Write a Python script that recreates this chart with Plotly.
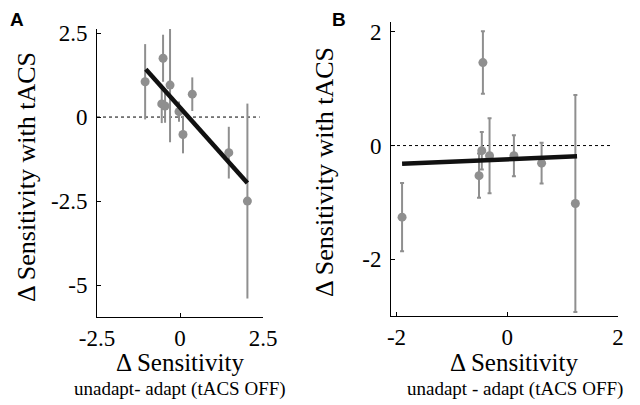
import plotly.graph_objects as go

# Panel A data
a_x = [-1.05, -0.51, -0.55, -0.45, -0.30, -0.03, 0.09, 0.37, 1.47, 2.03]
a_y = [1.05, 1.75, 0.39, 0.33, 0.95, 0.16, -0.52, 0.68, -1.06, -2.50]
a_err = [1.12, 0.70, 0.57, 0.50, 1.70, 0.30, 0.56, 0.50, 0.77, 2.90]
a_fit_x = [-1.03, 2.03]
a_fit_y = [1.42, -1.96]

# Panel B data
b_x = [-1.90, -0.44, -0.46, -0.51, -0.32, 0.12, 0.62, 1.23]
b_y = [-1.26, 1.46, -0.09, -0.53, -0.18, -0.18, -0.31, -1.02]
b_err = [0.60, 0.55, 0.33, 0.39, 0.66, 0.36, 0.36, 1.91]
b_fit_x = [-1.90, 1.26]
b_fit_y = [-0.32, -0.19]

a_xticks = [-2.5, 0, 2.5]
a_yticks = [-5, -2.5, 0, 2.5]
b_xticks = [-2, 0, 2]
b_yticks = [-2, 0, 2]

GRAY = "#8f8f8f"
SERIF = "Liberation Serif"

fig = go.Figure()

fig.add_trace(go.Scatter(x=[-2.5, 2.4], y=[0, 0], mode="lines",
                         line=dict(color="black", width=1, dash="dot"),
                         xaxis="x", yaxis="y", showlegend=False))
fig.add_trace(go.Scatter(x=[-2.1, 1.9], y=[0, 0], mode="lines",
                         line=dict(color="black", width=1, dash="dot"),
                         xaxis="x2", yaxis="y2", showlegend=False))

fig.add_trace(go.Scatter(x=a_x, y=a_y, mode="markers",
                         marker=dict(color=GRAY, size=9),
                         error_y=dict(type="data", array=a_err, color=GRAY, thickness=2, width=0),
                         xaxis="x", yaxis="y", showlegend=False))
fig.add_trace(go.Scatter(x=a_fit_x, y=a_fit_y, mode="lines",
                         line=dict(color="#111111", width=4.5),
                         xaxis="x", yaxis="y", showlegend=False))

fig.add_trace(go.Scatter(x=b_x, y=b_y, mode="markers",
                         marker=dict(color=GRAY, size=9),
                         error_y=dict(type="data", array=b_err, color=GRAY, thickness=2, width=2),
                         xaxis="x2", yaxis="y2", showlegend=False))
fig.add_trace(go.Scatter(x=b_fit_x, y=b_fit_y, mode="lines",
                         line=dict(color="#111111", width=4.5),
                         xaxis="x2", yaxis="y2", showlegend=False))

# page body has an 8px margin; figure covers window pixels 8..640, 8..405
OFF = 8
W, H = 640 - OFF, 405 - OFF

def px(x):
    return (x - OFF) / W

def py(y):
    return 1 - (y - OFF) / H

def ax(ticks, rng, domain, anchor, standoff):
    return dict(range=rng, domain=domain, anchor=anchor, tickvals=ticks,
                ticktext=[("%g" % t) for t in ticks], automargin=False,
                showgrid=False, zeroline=False, showline=True, linecolor="black",
                linewidth=1, ticks="inside", ticklen=4, tickcolor="black",
                ticklabelstandoff=standoff,
                tickfont=dict(family=SERIF, size=23, color="black"))

fig.update_layout(
    width=W, height=H, margin=dict(l=0, r=0, t=0, b=0, autoexpand=False),
    paper_bgcolor="white", plot_bgcolor="white",
    xaxis=ax(a_xticks, [-2.5, 2.5], [px(97), px(263)], "y", 0),
    yaxis=ax(a_yticks, [-5.95, 2.62], [py(317), py(29)], "x", 4),
    xaxis2=ax(b_xticks, [-2.1, 2.0], [px(391), px(618)], "y2", 0),
    yaxis2=ax(b_yticks, [-3.0, 2.18], [py(316), py(21.7)], "x2", 4),
)

ann = []
def text(x, y, s, size, family=SERIF, angle=0, bold=False):
    ann.append(dict(x=px(x), y=py(y), xref="paper", yref="paper",
                    text=("<b>%s</b>" % s) if bold else s, showarrow=False,
                    textangle=angle, xanchor="center", yanchor="middle",
                    font=dict(family=family, size=size, color="black")))

text(17, 20, "A", 19, family="Liberation Sans", bold=True)
text(339, 20, "B", 19, family="Liberation Sans", bold=True)
text(26, 177, "Δ Sensitivity with tACS", 26, angle=-90)
text(324, 172, "Δ Sensitivity with tACS", 26, angle=-90)
text(180, 362, "Δ Sensitivity", 25)
text(180, 389, "unadapt- adapt (tACS OFF)", 19)
text(514, 362, "Δ Sensitivity", 25)
text(515, 389, "unadapt - adapt (tACS OFF)", 19)
fig.update_layout(annotations=ann)

fig.write_html("out.html")
